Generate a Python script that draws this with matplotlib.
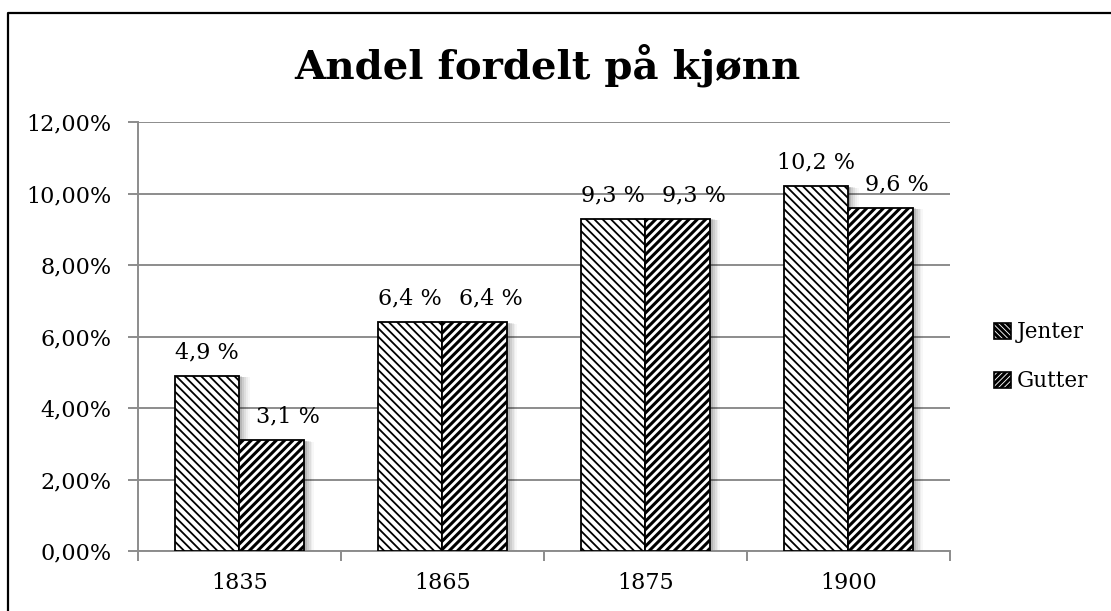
import matplotlib
matplotlib.use("Agg")
import matplotlib.pyplot as plt
import numpy as np
from matplotlib.lines import Line2D
from matplotlib.patches import Patch

years = ['1835', '1865', '1875', '1900']
jenter = [4.9, 6.4, 9.3, 10.2]
gutter = [3.1, 6.4, 9.3, 9.6]
series_names = ['Jenter', 'Gutter']
yticks = [0, 2, 4, 6, 8, 10, 12]

plt.rcParams['font.family'] = 'DejaVu Serif'

fig = plt.figure(figsize=(11.11, 6.11), dpi=100)
ax = fig.add_axes([0.124, 0.0982, 0.731, 0.7021])

x = np.arange(len(years))
w = 0.318
grey = '#8c8c8c'

def bars(xpos, vals, hatch, hlw, z):
    # soft shadow first
    for k, a in enumerate([0.14, 0.11, 0.08, 0.06, 0.04, 0.03]):
        off = 0.006 + k * 0.009
        ax.bar(xpos + off, np.array(vals) - off * 0.9, width=w, bottom=-0.0,
               color='black', alpha=a, linewidth=0, zorder=1)
    plt.rcParams['hatch.linewidth'] = hlw
    bb = ax.bar(xpos, vals, width=w, color='white', edgecolor='black',
                hatch=hatch, linewidth=1.3, zorder=z)
    for p in bb:
        if hasattr(p, 'set_hatch_linewidth'):
            p.set_hatch_linewidth(hlw)
    return bb

bars(x - w / 2, jenter, '\\\\\\\\', 1.3, 3)
bars(x + w / 2, gutter, '////', 2.2, 3)

for i in range(len(years)):
    ax.annotate(f"{jenter[i]:.1f} %".replace('.', ','), (x[i] - w / 2, jenter[i]),
                xytext=(0, 9), textcoords='offset points', ha='center', va='bottom',
                fontsize=16)
    ax.annotate(f"{gutter[i]:.1f} %".replace('.', ','), (x[i] + w / 2 + 0.08, gutter[i]),
                xytext=(0, 9), textcoords='offset points', ha='center', va='bottom',
                fontsize=16)

ax.set_xlim(-0.5, len(years) - 0.5)
ax.set_ylim(0, 12)
ax.set_yticks(yticks)
ax.set_yticklabels([f"{v:.2f}%".replace('.', ',') for v in yticks], fontsize=16)
ax.yaxis.grid(True, color=grey, linewidth=1.4, zorder=0)
ax.set_axisbelow(True)
ax.tick_params(axis='y', length=7, width=1.4, color=grey, pad=12)

ax.set_xticks(x)
ax.set_xticklabels(years, fontsize=16)
ax.set_xticks(np.arange(-0.5, len(years), 1.0), minor=True)
ax.tick_params(axis='x', which='major', length=0, pad=15)
ax.tick_params(axis='x', which='minor', length=7, width=1.4, color=grey)

for s in ['top', 'right']:
    ax.spines[s].set_visible(False)
for s in ['left', 'bottom']:
    ax.spines[s].set_color(grey)
    ax.spines[s].set_linewidth(1.4)

fig.text(0.493, 0.893, 'Andel fordelt på kjønn', ha='center', va='center',
         fontsize=29, fontweight='bold')

plt.rcParams['hatch.linewidth'] = 1.3
h1 = Patch(facecolor='white', edgecolor='black', hatch='\\\\\\\\\\\\', linewidth=1.2)
plt.rcParams['hatch.linewidth'] = 2.2
h2 = Patch(facecolor='white', edgecolor='black', hatch='//////', linewidth=1.2)
fig.legend([h1, h2], series_names, loc='center left', bbox_to_anchor=(0.877, 0.416),
           frameon=False, fontsize=15.5, handlelength=0.8, handleheight=0.8,
           handletextpad=0.25, labelspacing=1.25)

# outer chart frame (cut by image edges on right and bottom)
fx = 8 / 1111
fy = 1 - 13 / 611
fig.add_artist(Line2D([fx, fx, 1.0], [0.0, fy, fy], transform=fig.transFigure,
                      color='black', linewidth=1.6))

fig.savefig('out.png', dpi=100)
